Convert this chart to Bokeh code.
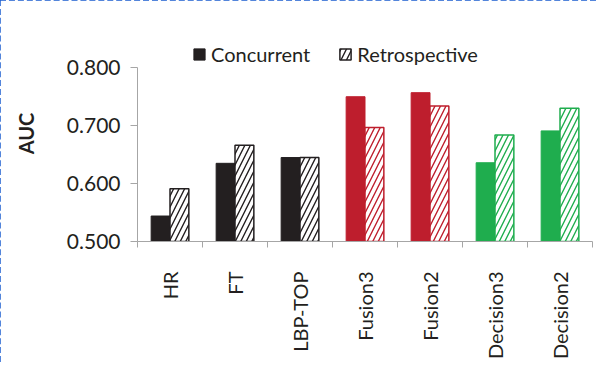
import math
import numpy as np
from bokeh.plotting import figure
from bokeh.models import (ColumnDataSource, Range1d, FixedTicker, NumeralTickFormatter,
                          Legend, LegendItem, LinearAxis)
from bokeh.transform import dodge
from bokeh.embed import file_html
from bokeh.resources import INLINE

# ---- data ----
categories = ["HR", "FT", "LBP-TOP", "Fusion3", "Fusion2", "Decision3", "Decision2"]
concurrent = [0.544, 0.635, 0.645, 0.750, 0.757, 0.636, 0.691]
retrospective = [0.591, 0.666, 0.645, 0.697, 0.734, 0.684, 0.730]
group_colors = ["#231f20", "#231f20", "#231f20", "#be1e2d", "#be1e2d", "#1fad4e", "#1fad4e"]
series_names = ["Concurrent", "Retrospective"]
y_ticks = [0.5, 0.6, 0.7, 0.8]
y_label = "AUC"

FONT = "Lato"
TXT = "#231f20"
AXC = "#a6a6a6"

n = len(categories)
centers = [i + 0.5 for i in range(n)]
bounds = list(range(n + 1))

src = ColumnDataSource(dict(x=centers, conc=concurrent, retro=retrospective,
                            color=group_colors, cat=categories))

p = figure(width=596, height=362, output_backend="svg", toolbar_location=None,
           x_range=Range1d(0, n), y_range=Range1d(0.5, 0.873), x_axis_type=None,
           y_axis_type=None, tools="")
p.min_border_left = 137
p.min_border_right = 4
p.min_border_top = 25
p.min_border_bottom = 121
p.outline_line_color = None
p.xgrid.visible = False
p.ygrid.visible = False
p.background_fill_color = "white"
p.border_fill_color = "white"
p.styles = {"outline": "3px dashed #1a5ccf", "outline-offset": "-3px"}

bw = 0.29
r1 = p.vbar(x=dodge("x", -bw / 2, range=p.x_range), top="conc", bottom=0.5, width=bw,
            source=src, fill_color="color", line_color="color", line_width=1)
r2 = p.vbar(x=dodge("x", bw / 2, range=p.x_range), top="retro", bottom=0.5, width=bw,
            source=src, fill_color="white", line_color="color", line_width=1.5,
            hatch_pattern="/", hatch_color="color", hatch_weight=1.4, hatch_scale=11)

# y axis
yax = LinearAxis(ticker=FixedTicker(ticks=y_ticks, minor_ticks=[]),
                 formatter=NumeralTickFormatter(format="0.000"))
yax.bounds = (0.5, 0.8)
yax.axis_line_color = AXC
yax.major_tick_line_color = AXC
yax.major_tick_out = 7
yax.major_tick_in = 0
yax.major_label_standoff = 10
yax.major_label_text_font = FONT
yax.major_label_text_font_size = "21px"
yax.major_label_text_color = TXT
yax.axis_label = y_label
yax.axis_label_text_font = FONT
yax.axis_label_text_font_style = "bold"
yax.axis_label_text_font_size = "20px"
yax.axis_label_text_color = TXT
yax.axis_label_standoff = 26
p.add_layout(yax, "left")

# x axis
xax = LinearAxis(ticker=FixedTicker(ticks=centers, minor_ticks=bounds))
xax.major_label_overrides = {c: name for c, name in zip(centers, categories)}
xax.axis_line_color = AXC
xax.major_tick_line_color = None
xax.major_tick_out = 0
xax.major_tick_in = 0
xax.minor_tick_line_color = AXC
xax.minor_tick_out = 6
xax.minor_tick_in = 0
xax.major_label_orientation = math.pi / 2
xax.major_label_standoff = 24
xax.major_label_text_font = FONT
xax.major_label_text_font_size = "20px"
xax.major_label_text_color = TXT
p.add_layout(xax, "below")

legend = Legend(items=[LegendItem(label=series_names[0], renderers=[r1], index=0),
                       LegendItem(label=series_names[1], renderers=[r2], index=0)],
                orientation="horizontal", location=(55, 175))
legend.border_line_color = None
legend.background_fill_alpha = 0
legend.padding = 0
legend.margin = 0
legend.spacing = 28
legend.label_standoff = 5
legend.glyph_width = 14
legend.glyph_height = 14
legend.label_text_font = FONT
legend.label_text_font_size = "20px"
legend.label_text_color = TXT
p.add_layout(legend, "center")

open("out.html", "w").write(file_html(p, INLINE))
